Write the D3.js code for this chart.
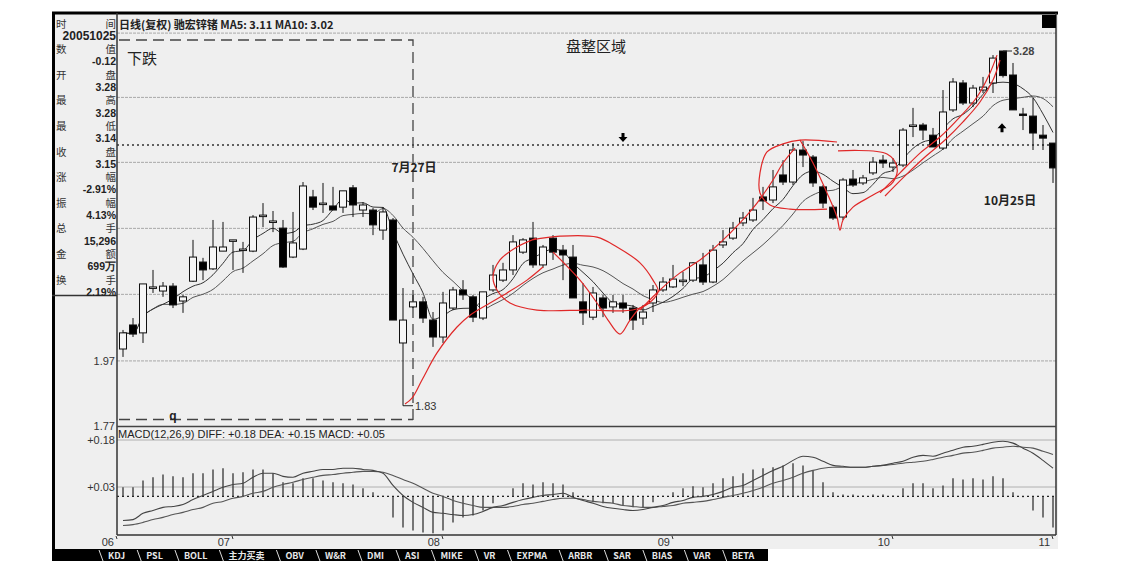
<!DOCTYPE html>
<html><head><meta charset="utf-8">
<script src="https://cdn.jsdelivr.net/npm/d3@7"></script>
<style>body{margin:0;background:#fff;} svg{display:block;}</style>
</head><body><svg id="c" width="1136" height="561"></svg>
<script>
// ---------------- DATA ----------------
const opens = [2.009,2.090,2.063,2.221,2.210,2.228,2.174,2.246,2.318,2.292,
2.360,2.400,2.364,2.360,2.500,2.476,2.451,2.337,2.368,2.580,
2.550,2.542,2.537,2.619,2.525,2.525,2.443,2.484,2.029,2.153,
2.171,2.107,2.049,2.149,2.214,2.189,2.114,2.214,2.250,2.288,
2.356,2.411,2.307,2.411,2.364,2.337,2.171,2.117,2.185,2.153,
2.167,2.149,2.114,2.167,2.214,2.225,2.246,2.250,2.307,2.243,
2.384,2.411,2.472,2.484,2.580,2.567,2.675,2.644,2.787,2.755,
2.623,2.537,2.496,2.657,2.640,2.684,2.741,2.710,2.719,2.899,
2.904,2.856,2.796,2.977,3.112,3.011,3.076,3.112,3.28,3.153,
2.957,2.947,2.856,2.819];
const highs = [2.073,2.114,2.236,2.288,2.243,2.239,2.196,2.404,2.334,2.484,
2.476,2.404,2.396,2.504,2.554,2.521,2.484,2.517,2.644,2.610,
2.640,2.623,2.606,2.631,2.558,2.533,2.537,2.492,2.221,2.196,
2.189,2.135,2.207,2.225,2.250,2.196,2.207,2.307,2.315,2.423,
2.411,2.476,2.384,2.423,2.384,2.384,2.239,2.225,2.196,2.196,
2.196,2.160,2.160,2.232,2.261,2.307,2.281,2.318,2.353,2.384,
2.443,2.476,2.517,2.576,2.623,2.697,2.741,2.819,2.828,2.764,
2.631,2.546,2.662,2.697,2.675,2.755,2.764,2.750,2.890,2.987,
2.914,2.890,3.076,3.137,3.127,3.102,3.143,3.258,3.28,3.216,
2.987,3.036,2.904,2.819];
const lows = [1.983,2.049,2.029,2.203,2.189,2.149,2.132,2.243,2.250,2.288,
2.360,2.288,2.277,2.356,2.455,2.435,2.296,2.333,2.364,2.525,
2.513,2.525,2.513,2.496,2.496,2.423,2.404,2.107,1.83,2.149,
2.097,2.016,2.029,2.142,2.178,2.100,2.107,2.207,2.243,2.269,
2.349,2.296,2.296,2.326,2.250,2.185,2.090,2.107,2.117,2.132,
2.132,2.073,2.090,2.135,2.207,2.221,2.228,2.243,2.232,2.239,
2.372,2.404,2.459,2.476,2.525,2.554,2.631,2.631,2.710,2.623,
2.533,2.484,2.484,2.623,2.631,2.675,2.706,2.688,2.710,2.847,
2.833,2.801,2.787,2.967,3.001,2.991,3.061,3.061,3.14,2.977,
2.880,2.787,2.787,2.640];
const closes = [2.063,2.059,2.236,2.225,2.228,2.160,2.189,2.337,2.288,2.376,
2.376,2.404,2.368,2.496,2.504,2.480,2.299,2.392,2.627,2.537,
2.554,2.525,2.606,2.546,2.546,2.464,2.517,2.107,2.107,2.171,
2.114,2.049,2.167,2.214,2.196,2.117,2.207,2.269,2.288,2.396,
2.404,2.307,2.376,2.356,2.345,2.185,2.132,2.203,2.149,2.171,
2.149,2.107,2.135,2.214,2.243,2.254,2.250,2.315,2.243,2.364,
2.396,2.451,2.492,2.525,2.563,2.623,2.644,2.787,2.764,2.640,
2.554,2.492,2.653,2.631,2.662,2.732,2.728,2.728,2.880,2.904,
2.880,2.801,2.967,3.117,3.011,3.086,3.091,3.242,3.15,2.977,
2.952,2.866,2.842,2.706];
const diffVals = [-0.077,-0.074,-0.054,-0.045,-0.035,-0.032,-0.026,-0.010,0.003,0.016,
0.029,0.038,0.042,0.061,0.074,0.074,0.064,0.061,0.074,0.080,
0.086,0.086,0.090,0.090,0.086,0.083,0.074,0.035,0.003,-0.019,
-0.035,-0.051,-0.054,-0.058,-0.061,-0.058,-0.048,-0.035,-0.029,-0.019,
-0.010,-0.003,0.003,0.006,0.010,-0.003,-0.013,-0.022,-0.032,-0.038,
-0.042,-0.045,-0.042,-0.035,-0.029,-0.019,-0.013,-0.003,0,0.006,
0.016,0.029,0.035,0.051,0.067,0.083,0.096,0.115,0.128,0.125,
0.112,0.099,0.096,0.093,0.093,0.096,0.099,0.106,0.112,0.125,
0.131,0.128,0.138,0.147,0.157,0.160,0.166,0.173,0.176,0.170,
0.154,0.138,0.115,0.090];
const deaVals = [-0.093,-0.090,-0.083,-0.074,-0.067,-0.058,-0.051,-0.042,-0.035,-0.022,
-0.016,-0.006,0,0.010,0.016,0.029,0.038,0.045,0.054,0.061,
0.067,0.070,0.074,0.077,0.080,0.080,0.077,0.067,0.054,0.042,
0.026,0.010,0,-0.013,-0.022,-0.029,-0.035,-0.035,-0.035,-0.032,
-0.026,-0.022,-0.016,-0.010,-0.006,-0.006,-0.010,-0.016,-0.019,-0.022,
-0.029,-0.032,-0.035,-0.035,-0.032,-0.029,-0.022,-0.019,-0.016,-0.010,
-0.003,0.003,0.010,0.019,0.029,0.042,0.051,0.061,0.074,0.083,
0.090,0.093,0.093,0.093,0.093,0.096,0.099,0.102,0.106,0.109,
0.112,0.118,0.125,0.131,0.138,0.141,0.147,0.154,0.157,0.160,
0.157,0.154,0.144,0.134];
const macdVals = [0.029,0.029,0.051,0.061,0.070,0.064,0.061,0.074,0.074,0.086,
0.090,0.074,0.077,0.086,0.086,0.074,0.045,0.042,0.058,0.058,
0.051,0.045,0.042,0.038,0.026,0.013,0.002,-0.067,-0.099,-0.109,
-0.115,-0.118,-0.109,-0.083,-0.067,-0.061,-0.045,-0.022,0.002,0.026,
0.042,0.038,0.045,0.042,0.038,0.013,-0.003,-0.019,-0.022,-0.022,
-0.029,-0.035,-0.035,-0.019,0.002,0.013,0.026,0.032,0.029,0.042,
0.058,0.064,0.074,0.086,0.090,0.093,0.099,0.106,0.099,0.083,
0.045,0.013,0.006,0.006,0.003,0.006,0.006,0.003,0.026,0.042,
0.042,0.026,0.035,0.058,0.054,0.058,0.054,0.064,0.058,0.013,
-0.003,-0.045,-0.067,-0.099];

const priceGrid = [1.77, 1.97, 2.198, 2.45, 2.731, 3.039, 3.378];
const priceLabels = ["1.77", "1.97"];
const refLine = 2.81;
const macdGrid = [0.18, 0.03];
const macdLabels = ["+0.18", "+0.03"];
const monthLabels = ["06","07","08","09","10","11"];
const monthIdx = [0, 11, 32, 55, 77, 93];
const lowIdx = 28, lowLabel = "1.83";
const highIdx = 88, highLabel = "3.28";
const dateLineIdx = 29;

const headerText = "日线(复权) 驰宏锌锗 MA5: 3.11 MA10: 3.02";
const macdHeader = "MACD(12,26,9) DIFF: +0.18 DEA: +0.15 MACD: +0.05";
const infoRows = [["时","间"],["20051025"],["数","值"],["-0.12"],["开","盘"],["3.28"],["最","高"],["3.28"],["最","低"],["3.14"],["收","盘"],["3.15"],["涨","幅"],["-2.91%"],["振","幅"],["4.13%"],["总","手"],["15,296"],["金","额"],["699万"],["换","手"],["2.19%"]];
const tabs = ["KDJ","PSL","BOLL","主力买卖","OBV","W&R","DMI","ASI","MIKE","VR","EXPMA","ARBR","SAR","BIAS","VAR","BETA"];

// annotations in data space [index, price]
const redRise = [[28.2,1.835],[28.9,1.853],[29.9,1.909],[31.4,1.996],[33.4,2.083],[34.7,2.124],[36.7,2.167],[38.4,2.203],[40.4,2.25],[42.0,2.299]];
const redLoop1 = [[40.9,2.404],[43.7,2.419],[47.4,2.415],[49.4,2.376],[51.7,2.315],[53.0,2.25],[53.5,2.207],[51.7,2.149],[46.0,2.142],[41.4,2.142],[38.7,2.167],[37.4,2.214],[37.0,2.261],[37.7,2.326],[39.4,2.376],[41.3,2.41]];
const redZig = [[43.0,2.356],[45.7,2.25],[47.4,2.167],[48.5,2.107],[49.7,2.059],[50.7,2.107],[51.7,2.149],[52.7,2.167]];
const redTrend1 = [[51.7,2.142],[53.7,2.214],[55.7,2.277],[57.7,2.326],[59.7,2.392],[61.7,2.472],[63.4,2.554],[65.0,2.653],[66.0,2.728],[67.2,2.796]];
const redLoop2 = [[71.4,2.824],[67.7,2.833],[66.0,2.815],[64.4,2.778],[63.7,2.684],[63.7,2.597],[64.7,2.546],[66.7,2.529],[70.4,2.529]];
const redLoop3 = [[67.7,2.833],[69.0,2.728],[70.4,2.597],[71.4,2.496],[71.7,2.443],[72.0,2.484],[73.0,2.537],[75.0,2.588],[77.0,2.644],[77.4,2.71],[76.4,2.769],[71.5,2.783]];
const redTrend2 = [[75.7,2.597],[77.7,2.684],[79.7,2.773],[81.7,2.847],[83.7,2.943],[85.4,3.041],[86.7,3.164],[87.4,3.258]];
const redTrend3 = [[76.2,2.584],[78.2,2.671],[80.2,2.755],[82.2,2.833],[84.0,2.919],[85.7,3.016],[87.0,3.127],[87.7,3.232]];
const arrowDown = [50.0, 2.847];
const arrowUp = [87.9, 2.889];

// ---------------- LAYOUT ----------------
const svg = d3.select("#c");
const L = 117, R = 1056, T = 13, mainB = 426, macdB = 535;
const CJK = "'Noto Sans CJK SC','Noto Sans',sans-serif";
const LAT = "'Liberation Sans',Arial,sans-serif";

const x = d3.scaleLinear().domain([0, opens.length - 1]).range([123, 1053]);
const y = d3.scaleLog().domain([1.77, 3.28]).range([mainB, 51]);
const ym = d3.scaleLinear().domain([0, 0.18]).range([496.4, 440]);

svg.append("rect").attr("x",52).attr("y",12).attr("width",1006).attr("height",537).attr("fill","#efefef");

// grid lines main
svg.append("g").selectAll("line").data(priceGrid.slice(1)).join("line")
  .attr("x1",L).attr("x2",R).attr("y1",d=>y(d)).attr("y2",d=>y(d))
  .attr("stroke","#a8a8a8").attr("stroke-width",1).attr("stroke-dasharray","3,1");
svg.append("line").attr("x1",L).attr("x2",R).attr("y1",y(refLine)).attr("y2",y(refLine))
  .attr("stroke","#333").attr("stroke-width",1.3).attr("stroke-dasharray","2,3");

// macd grid
svg.append("g").selectAll("line").data(macdGrid).join("line")
  .attr("x1",L).attr("x2",R).attr("y1",d=>ym(d)).attr("y2",d=>ym(d))
  .attr("stroke","#b0b0b0").attr("stroke-width",1);

// dashed "下跌" box
const dash = svg.append("g").attr("stroke","#444").attr("stroke-width",1.3).attr("stroke-dasharray","11,6").attr("fill","none");
dash.append("path").attr("d",`M${L+2},40 H${x(dateLineIdx)} V420 M${L+2},419.5 H${x(dateLineIdx)}`);

// texts in main
svg.append("text").attr("x",119).attr("y",24).attr("dominant-baseline","central")
  .attr("font-family",CJK).attr("font-size",11).attr("font-weight","bold").attr("fill","#222").text(headerText);
svg.append("text").attr("x",127).attr("y",57).attr("dominant-baseline","central")
  .attr("font-family",CJK).attr("font-size",15).attr("fill","#222").text("下跌");
svg.append("text").attr("x",596).attr("y",45).attr("dominant-baseline","central").attr("text-anchor","middle")
  .attr("font-family",CJK).attr("font-size",15).attr("fill","#222").text("盘整区域");
svg.append("text").attr("x",414).attr("y",166).attr("dominant-baseline","central").attr("text-anchor","middle")
  .attr("font-family",CJK).attr("font-size",12).attr("font-weight","bold").attr("fill","#222").text("7月27日");
svg.append("text").attr("x",1010).attr("y",199).attr("dominant-baseline","central").attr("text-anchor","middle")
  .attr("font-family",CJK).attr("font-size",12).attr("font-weight","bold").attr("fill","#222").text("10月25日");
svg.append("text").attr("x",173).attr("y",416).attr("dominant-baseline","central").attr("text-anchor","middle")
  .attr("font-family",LAT).attr("font-size",12).attr("font-weight","bold").attr("fill","#222").text("q");

// moving averages (from the closes, as in the source software)
function ma(n){ return closes.map((c,i)=>d3.mean(closes.slice(Math.max(0,i-n+1), i+1))); }
const ma5 = ma(5), ma10 = ma(10);
svg.append("clipPath").attr("id","pc").append("rect").attr("x",L).attr("y",T).attr("width",R-L).attr("height",mainB-T);
const plot = svg.append("g").attr("clip-path","url(#pc)");
const lineGen = d3.line().x((d,i)=>x(i)).y(d=>y(d)).curve(d3.curveMonotoneX);
plot.append("path").attr("d",lineGen(ma10)).attr("fill","none").attr("stroke","#555").attr("stroke-width",1);
plot.append("path").attr("d",lineGen(ma5)).attr("fill","none").attr("stroke","#333").attr("stroke-width",1);

// candles
const cd = opens.map((o,i)=>({i,o,h:highs[i],l:lows[i],c:closes[i]}));
const cg = plot.append("g").selectAll("g").data(cd).join("g");
cg.append("line").attr("x1",d=>x(d.i)).attr("x2",d=>x(d.i)).attr("y1",d=>y(d.h)).attr("y2",d=>y(d.l))
  .attr("stroke","#111").attr("stroke-width",1);
cg.append("rect").attr("x",d=>x(d.i)-3.5).attr("width",7)
  .attr("y",d=>y(Math.max(d.o,d.c))).attr("height",d=>Math.max(1.5,Math.abs(y(d.o)-y(d.c))))
  .attr("fill",d=>d.c>=d.o?"#f6f6f6":"#000").attr("stroke","#111").attr("stroke-width",1);

// red annotations
const rl = d3.line().x(d=>x(d[0])).y(d=>y(d[1])).curve(d3.curveCatmullRom);
[redRise, redLoop1, redZig, redTrend1, redLoop2, redLoop3, redTrend2, redTrend3].forEach(p=>{
  plot.append("path").attr("d",rl(p)).attr("fill","none").attr("stroke","#e02828").attr("stroke-width",1.2);
});

// low / high labels
svg.append("line").attr("x1",x(lowIdx)).attr("x2",x(lowIdx)+10).attr("y1",y(lows[lowIdx])).attr("y2",y(lows[lowIdx])).attr("stroke","#222");
svg.append("text").attr("x",x(lowIdx)+12).attr("y",y(lows[lowIdx])).attr("dominant-baseline","central")
  .attr("font-family",LAT).attr("font-size",11).attr("fill","#333").text(lowLabel);
svg.append("line").attr("x1",x(highIdx)).attr("x2",x(highIdx)+9).attr("y1",y(highs[highIdx])).attr("y2",y(highs[highIdx])).attr("stroke","#222");
svg.append("text").attr("x",x(highIdx)+10).attr("y",y(highs[highIdx])).attr("dominant-baseline","central")
  .attr("font-family",LAT).attr("font-size",11).attr("font-weight","bold").attr("fill","#444").text(highLabel);

// arrows
function arrow(cx, cy, up){
  const s = up ? -1 : 1;
  svg.append("path").attr("d",`M${cx-1.5},${cy-4*s} V${cy} H${cx-4.5} L${cx},${cy+5*s} L${cx+4.5},${cy} H${cx+1.5} V${cy-4*s} Z`).attr("fill","#000");
}
arrow(x(arrowDown[0]), y(arrowDown[1]), false);
arrow(x(arrowUp[0]), y(arrowUp[1]), true);

// MACD
svg.append("line").attr("x1",L).attr("x2",R).attr("y1",ym(0)).attr("y2",ym(0))
  .attr("stroke","#222").attr("stroke-width",1.2).attr("stroke-dasharray","2,3");
svg.append("g").selectAll("line").data(macdVals).join("line")
  .attr("x1",(d,i)=>x(i)).attr("x2",(d,i)=>x(i)).attr("y1",ym(0)).attr("y2",d=>ym(d))
  .attr("stroke","#333").attr("stroke-width",1.3);
const ml = d3.line().x((d,i)=>x(i)).y(d=>ym(d)).curve(d3.curveMonotoneX);
svg.append("path").attr("d",ml(deaVals)).attr("fill","none").attr("stroke","#555").attr("stroke-width",1.1);
svg.append("path").attr("d",ml(diffVals)).attr("fill","none").attr("stroke","#444").attr("stroke-width",1.1);
svg.append("text").attr("x",118).attr("y",434).attr("dominant-baseline","central")
  .attr("font-family",LAT).attr("font-size",11).attr("fill","#222").text(macdHeader);

// borders
const b = svg.append("g").attr("fill","none");
b.append("line").attr("x1",52).attr("x2",1058).attr("y1",13).attr("y2",13).attr("stroke","#000").attr("stroke-width",3);
b.append("line").attr("x1",53.5).attr("x2",53.5).attr("y1",12).attr("y2",561).attr("stroke","#000").attr("stroke-width",3);
b.append("line").attr("x1",L).attr("x2",L).attr("y1",13).attr("y2",macdB).attr("stroke","#333").attr("stroke-width",1.5);
b.append("line").attr("x1",R).attr("x2",R).attr("y1",13).attr("y2",macdB).attr("stroke","#333").attr("stroke-width",1.5);
b.append("line").attr("x1",L).attr("x2",R).attr("y1",mainB+0.5).attr("y2",mainB+0.5).attr("stroke","#444").attr("stroke-width",1.5);
b.append("line").attr("x1",L).attr("x2",R).attr("y1",macdB).attr("y2",macdB).attr("stroke","#333").attr("stroke-width",1.5);
svg.append("rect").attr("x",1042).attr("y",15).attr("width",14).attr("height",13).attr("fill","#000");

// y labels
svg.append("g").selectAll("text").data(priceLabels).join("text")
  .attr("x",115).attr("y",d=>y(+d)).attr("text-anchor","end").attr("dominant-baseline","central")
  .attr("font-family",LAT).attr("font-size",11).attr("fill","#333").text(d=>d);
svg.append("g").selectAll("text").data(macdLabels).join("text")
  .attr("x",115).attr("y",(d,i)=>ym(macdGrid[i])).attr("text-anchor","end").attr("dominant-baseline","central")
  .attr("font-family",LAT).attr("font-size",11).attr("fill","#333").text(d=>d);

// x labels
const xl = svg.append("g");
monthLabels.forEach((m,k)=>{
  const xi = monthIdx[k]===0 ? L : x(monthIdx[k]);
  xl.append("text").attr("x",xi-3).attr("y",542).attr("text-anchor","end").attr("dominant-baseline","central")
    .attr("font-family",LAT).attr("font-size",11).attr("fill","#333").text(m);
  xl.append("line").attr("x1",xi-1).attr("x2",xi).attr("y1",536).attr("y2",539).attr("stroke","#333");
});

// info panel
const ip = svg.append("g");
ip.append("line").attr("x1",52).attr("x2",L).attr("y1",295.5).attr("y2",295.5).attr("stroke","#333").attr("stroke-width",1.5);
infoRows.forEach((r,k)=>{
  const yy = 23 + k*12.8;
  if (r.length===2){
    ip.append("text").attr("x",56).attr("y",yy).attr("dominant-baseline","central")
      .attr("font-family",CJK).attr("font-size",10.5).attr("fill","#333").text(r[0]);
    ip.append("text").attr("x",116).attr("y",yy).attr("text-anchor","end").attr("dominant-baseline","central")
      .attr("font-family",CJK).attr("font-size",10.5).attr("fill","#333").text(r[1]);
  } else {
    ip.append("text").attr("x",116).attr("y",yy).attr("text-anchor","end").attr("dominant-baseline","central")
      .attr("font-family",LAT).attr("font-size",k===1?12:10.5).attr("font-weight","bold").attr("fill","#222").text(r[0]);
  }
});

// tabs
const tb = svg.append("g");
tb.append("rect").attr("x",52).attr("y",549).attr("width",716).attr("height",12).attr("fill","#000");
let tx = 108;
tabs.forEach(t=>{
  const te = tb.append("text").attr("x",tx).attr("y",555).attr("dominant-baseline","central")
    .attr("font-family",CJK).attr("font-size",9).attr("font-weight","bold").attr("fill","#e8e8e8").text(t);
  const w = te.node().getComputedTextLength();
  tb.append("line").attr("x1",tx-9).attr("x2",tx-5).attr("y1",550).attr("y2",561).attr("stroke","#ddd");
  tx += w + 21;
});
</script></body></html>
